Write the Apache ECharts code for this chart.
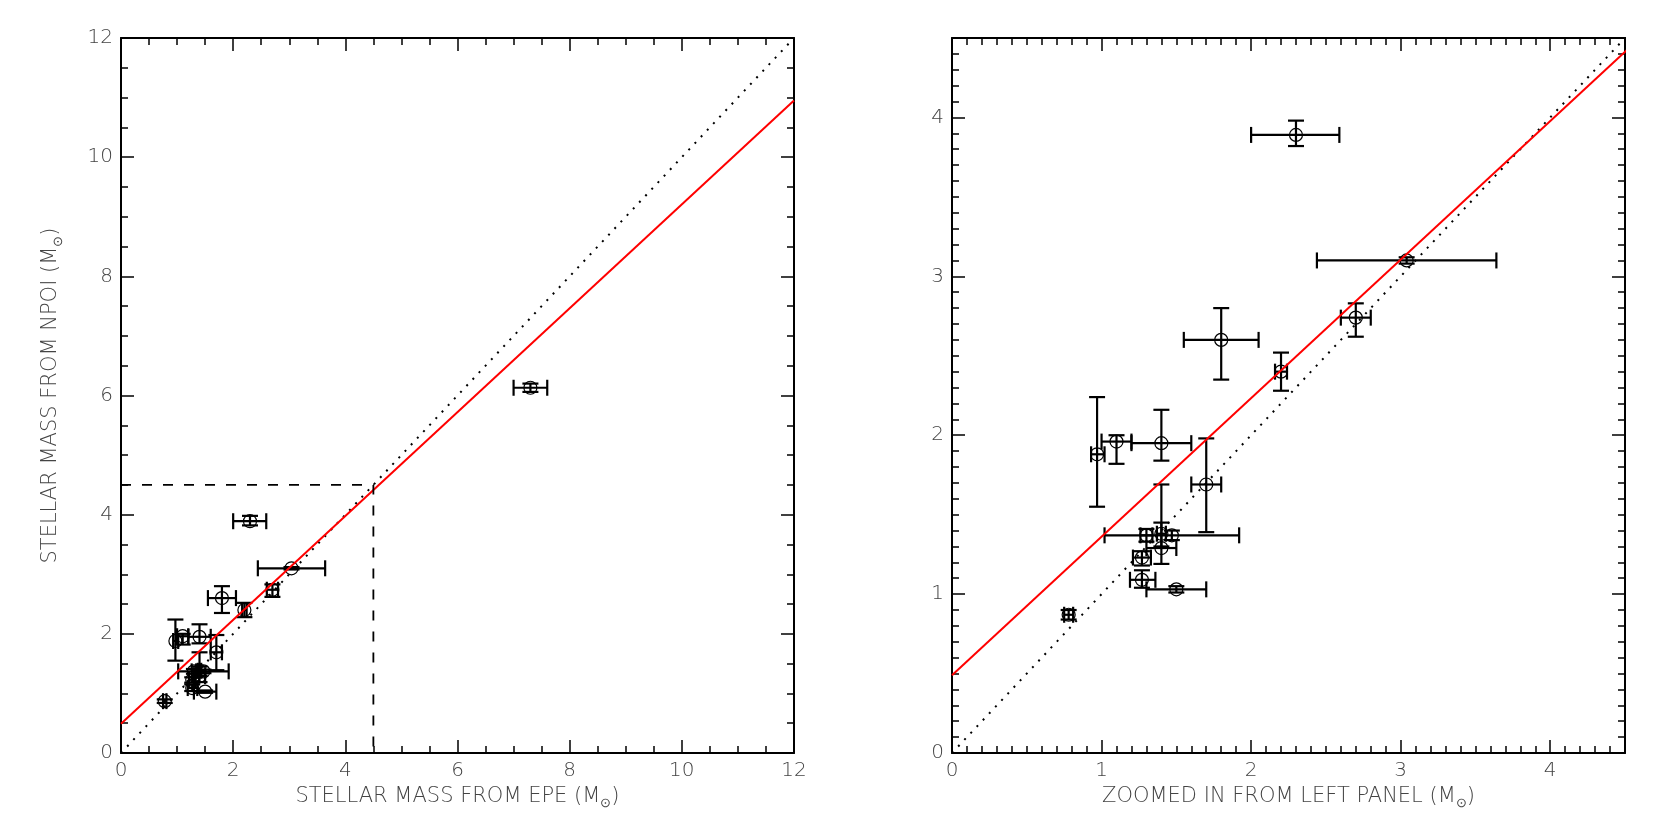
<!DOCTYPE html>
<html>
<head>
<meta charset="utf-8">
<title>Stellar mass: EPE vs NPOI</title>
<script src="https://cdn.jsdelivr.net/npm/echarts@6/dist/echarts.min.js"></script>
<style>
  html, body { margin: 0; padding: 0; background: #fff; }
  #main { width: 1661px; height: 830px; }
</style>
</head>
<body>
<div id="main"></div>
<script>
// mass from EPE (x) with lower / upper error limits
var epeMass = [2.30, 1.80, 2.20, 3.04, 2.70, 0.97, 1.10, 1.40, 1.70, 1.40, 1.40, 1.47, 1.27, 1.30, 1.27, 1.50, 0.78, 7.30];
var epeLow  = [2.00, 1.55, 2.16, 2.44, 2.60, 0.93, 1.00, 1.20, 1.60, 1.37, 1.30, 1.02, 1.21, 1.26, 1.19, 1.30, 0.75, 7.00];
var epeHigh = [2.59, 2.05, 2.24, 3.64, 2.80, 1.02, 1.20, 1.60, 1.80, 1.43, 1.50, 1.92, 1.33, 1.34, 1.36, 1.70, 0.81, 7.60];
// mass from NPOI (y) with lower / upper error limits
var npoiMass = [3.89, 2.60, 2.40, 3.10, 2.74, 1.88, 1.96, 1.95, 1.69, 1.38, 1.29, 1.37, 1.23, 1.37, 1.09, 1.03, 0.87, 6.13];
var npoiLow  = [3.82, 2.35, 2.28, 3.08, 2.62, 1.55, 1.82, 1.84, 1.39, 1.30, 1.19, 1.34, 1.18, 1.33, 1.04, 1.01, 0.84, 6.06];
var npoiHigh = [3.98, 2.80, 2.52, 3.12, 2.83, 2.24, 2.00, 2.16, 1.98, 1.69, 1.45, 1.40, 1.27, 1.41, 1.15, 1.05, 0.90, 6.20];

// tick labels
var leftTicks = [0, 2, 4, 6, 8, 10, 12];
var rightTicks = [0, 1, 2, 3, 4];
var rightMax = 4.5;

// fitted relation, one-to-one line and the zoom box
var fitLine = [[0, 0.49], [12, 10.95]];
var oneToOne = [[0, 0], [12, 12]];
var zoomBox = [[0, 4.5], [4.5, 4.5], [4.5, 0]];

var points = epeMass.map(function (x, i) {
  return [x, npoiMass[i], epeLow[i], epeHigh[i], npoiLow[i], npoiHigh[i]];
});

var labelStyle = {
  color: '#444',
  fontFamily: 'DejaVu Sans',
  fontWeight: 200,
  fontSize: 20
};
var nameRich = {
  a: { color: '#444', fontFamily: 'DejaVu Sans', fontWeight: 200, fontSize: 21, lineHeight: 28 },
  s: { color: '#444', fontFamily: 'DejaVu Sans', fontWeight: 200, fontSize: 13, lineHeight: 13, verticalAlign: 'bottom' }
};

// one side of a panel frame
function frameAxis(grid, pos, max, step, minorSplit, labels, name, gap) {
  return {
    type: 'value',
    gridIndex: grid,
    position: pos,
    min: 0,
    max: max,
    interval: step,
    name: name || '',
    nameLocation: 'middle',
    nameGap: gap || 0,
    nameRotate: (pos === 'left' && name) ? 90 : 0,
    nameTextStyle: { rich: nameRich },
    axisLine: { show: true, onZero: false, lineStyle: { color: '#000', width: 2 } },
    axisTick: { show: true, inside: true, length: 13, lineStyle: { color: '#000', width: 1.5 } },
    minorTick: { show: true, splitNumber: minorSplit, length: 7, lineStyle: { color: '#000', width: 1.5 } },
    splitLine: { show: false },
    axisLabel: {
      show: labels,
      margin: 8,
      showMaxLabel: max % step === 0,
      color: labelStyle.color,
      fontFamily: labelStyle.fontFamily,
      fontWeight: labelStyle.fontWeight,
      fontSize: labelStyle.fontSize
    }
  };
}

function errBar(params, api) {
  var x = api.value(0), y = api.value(1);
  var c = api.coord([x, y]);
  var xl = api.coord([api.value(2), y]);
  var xh = api.coord([api.value(3), y]);
  var yl = api.coord([x, api.value(4)]);
  var yh = api.coord([x, api.value(5)]);
  var cap = 8;
  var st = { stroke: '#000', lineWidth: 2.2, fill: null };
  return {
    type: 'group',
    children: [
      { type: 'line', shape: { x1: xl[0], y1: c[1], x2: xh[0], y2: c[1] }, style: st },
      { type: 'line', shape: { x1: xl[0], y1: c[1] - cap, x2: xl[0], y2: c[1] + cap }, style: st },
      { type: 'line', shape: { x1: xh[0], y1: c[1] - cap, x2: xh[0], y2: c[1] + cap }, style: st },
      { type: 'line', shape: { x1: c[0], y1: yl[1], x2: c[0], y2: yh[1] }, style: st },
      { type: 'line', shape: { x1: c[0] - cap, y1: yl[1], x2: c[0] + cap, y2: yl[1] }, style: st },
      { type: 'line', shape: { x1: c[0] - cap, y1: yh[1], x2: c[0] + cap, y2: yh[1] }, style: st },
      { type: 'circle', shape: { cx: c[0], cy: c[1], r: 6.5 }, style: { stroke: '#000', lineWidth: 1.2, fill: null } }
    ]
  };
}

function panelSeries(k) {
  return [
    {
      type: 'line', xAxisIndex: 2 * k, yAxisIndex: 2 * k, data: oneToOne,
      symbol: 'none', silent: true, clip: true,
      lineStyle: { color: '#000', width: 2, type: [2, 7] }
    },
    {
      type: 'line', xAxisIndex: 2 * k, yAxisIndex: 2 * k, data: fitLine,
      symbol: 'none', silent: true, clip: true,
      lineStyle: { color: '#ff0000', width: 2 }
    },
    {
      type: 'custom', xAxisIndex: 2 * k, yAxisIndex: 2 * k, data: points,
      renderItem: errBar, clip: true,
      encode: { x: 0, y: 1 }
    }
  ];
}

var myChart = echarts.init(document.getElementById('main'), null, { renderer: 'canvas' });

var series = panelSeries(0).concat(panelSeries(1));
series.push({
  type: 'line', xAxisIndex: 0, yAxisIndex: 0, data: zoomBox,
  symbol: 'none', silent: true,
  lineStyle: { color: '#000', width: 1.8, type: [10, 11] }
});

var lMax = leftTicks[leftTicks.length - 1];
var lStep = leftTicks[1] - leftTicks[0];
var rStep = rightTicks[1] - rightTicks[0];

myChart.setOption({
  animation: false,
  backgroundColor: '#fff',
  grid: [
    { left: 121, top: 38, width: 673, height: 715 },
    { left: 952, top: 38, width: 673, height: 715 }
  ],
  xAxis: [
    frameAxis(0, 'bottom', lMax, lStep, 4, true, '{a|STELLAR MASS FROM EPE (M}{s|⊙}{a|)}', 22),
    frameAxis(0, 'top', lMax, lStep, 4, false),
    frameAxis(1, 'bottom', rightMax, rStep, 10, true, '{a|ZOOMED IN FROM LEFT PANEL (M}{s|⊙}{a|)}', 22),
    frameAxis(1, 'top', rightMax, rStep, 10, false)
  ],
  yAxis: [
    frameAxis(0, 'left', lMax, lStep, 4, true, '{a|STELLAR MASS FROM NPOI (M}{s|⊙}{a|)}', 56),
    frameAxis(0, 'right', lMax, lStep, 4, false),
    frameAxis(1, 'left', rightMax, rStep, 10, true),
    frameAxis(1, 'right', rightMax, rStep, 10, false)
  ],
  series: series
});
</script>
</body>
</html>
